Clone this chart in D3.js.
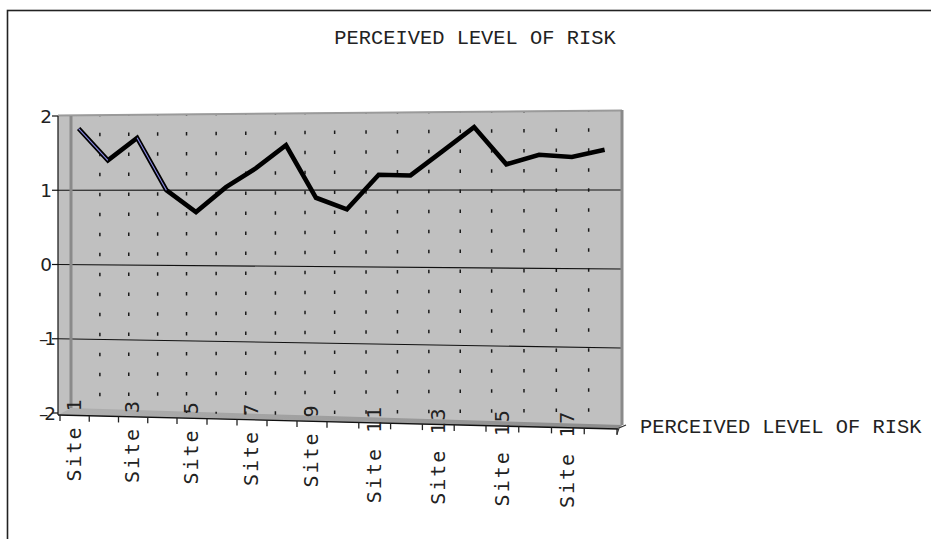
<!DOCTYPE html>
<html>
<head>
<meta charset="utf-8">
<script src="https://cdn.jsdelivr.net/npm/d3@7"></script>
<style>
  html, body { margin: 0; padding: 0; background: #fff; }
  svg { display: block; }
</style>
</head>
<body>
<svg id="chart" width="931" height="539"></svg>
<script>
// ---------------- data ----------------
const categories = ["Site 1","Site 2","Site 3","Site 4","Site 5","Site 6","Site 7","Site 8","Site 9",
  "Site 10","Site 11","Site 12","Site 13","Site 14","Site 15","Site 16","Site 17","Site 18"];
const riskValues = [1.83, 1.40, 1.70, 1.00, 0.71, 1.04, 1.29, 1.59, 0.90,
  0.75, 1.20, 1.19, 1.50, 1.81, 1.33, 1.45, 1.42, 1.51];
const yTickValues = [-2, -1, 0, 1, 2];
const yTickLabels = ["\u20132", "\u20131", "0", "1", "2"];
const gridValues = [-1, 0, 1];
const chartTitle = "PERCEIVED LEVEL OF RISK";
const seriesName = "PERCEIVED LEVEL OF RISK";

// ---------------- layout ----------------
const svg = d3.select("#chart");
const n = categories.length;

// front category axis (perspective approximated by a polylinear scale)
const xFront = d3.scaleLinear().domain([0, 4, 9, 14, 18]).range([60, 177, 327, 486, 617]);
const axisY = d3.scaleLinear().domain([60, 617]).range([415, 429]);
// back wall x mapping
const xWall = d3.scaleLinear().domain([60, 617]).range([71, 621]);
// value scales at the left and right edges of the wall (perspective)
const yLeft = d3.scaleLinear().domain([-2, 2]).range([413, 116]);
const yRight = d3.scaleLinear().domain([-2, 2]).range([427, 111]);
const tWall = d3.scaleLinear().domain([71, 621]).range([0, 1]);
const yAt = (v, x) => d3.interpolateNumber(yLeft(v), yRight(v))(tWall(x));

const axisX = 58;
const wallL = xWall(xFront(0)), wallR = xWall(xFront(n));

// border
svg.append("rect").attr("x", 7.5).attr("y", 10.5).attr("width", 1000).attr("height", 1000)
  .attr("fill", "none").attr("stroke", "#222").attr("stroke-width", 1.6);

// title
svg.append("text").attr("x", 475).attr("y", 44).attr("text-anchor", "middle")
  .attr("font-family", "Liberation Mono").attr("font-size", 20.4).attr("fill", "#222")
  .text(chartTitle);

// wall fill
const wallPoly = [[axisX, yLeft(2) - 1], [wallR + 1, yRight(2) - 1], [wallR + 1, yRight(-2) - 1],
  [xFront(n), axisY(xFront(n))], [axisX, axisY(axisX + 2)]];
svg.append("polygon").attr("points", wallPoly.map(p => p.join(",")).join(" "))
  .attr("fill", "#c0c0c0");

// floor
const defs = svg.append("defs");
const grad = defs.append("linearGradient").attr("id", "floorGrad").attr("x1", "0").attr("x2", "1");
grad.append("stop").attr("offset", "0").attr("stop-color", "#b0b0b0");
grad.append("stop").attr("offset", "1").attr("stop-color", "#8c8c8c");
const floorPoly = [[axisX, axisY(axisX + 2)], [wallL, yLeft(-2) - 5], [wallR + 1, yRight(-2) - 2],
  [xFront(n), axisY(xFront(n))]];
svg.append("polygon").attr("points", floorPoly.map(p => p.join(",")).join(" "))
  .attr("fill", "url(#floorGrad)");

// dashed vertical gridlines on wall
for (let k = 1; k < n; k++) {
  const x = xWall(xFront(k));
  svg.append("line").attr("x1", x).attr("x2", x)
    .attr("y1", yAt(2, x)).attr("y2", yAt(-2, x) - 3)
    .attr("stroke", "#1a1a1a").attr("stroke-width", 1.5)
    .attr("stroke-dasharray", "3.5 16.5").attr("stroke-dashoffset", 3);
}

// horizontal gridlines
gridValues.forEach(v => {
  svg.append("line").attr("x1", axisX).attr("y1", yLeft(v))
    .attr("x2", wallR).attr("y2", yAt(v, wallR))
    .attr("stroke", "#111").attr("stroke-width", 1.1);
});

// wall edges
svg.append("line").attr("x1", axisX).attr("y1", yLeft(2) - 0.5).attr("x2", wallR + 1).attr("y2", yRight(2) - 0.5)
  .attr("stroke", "#9a9a9a").attr("stroke-width", 2);
svg.append("line").attr("x1", wallL).attr("y1", yLeft(2)).attr("x2", wallL).attr("y2", yLeft(-2) - 5)
  .attr("stroke", "#8a8a8a").attr("stroke-width", 3);
svg.append("line").attr("x1", wallR + 1).attr("y1", yRight(2) - 1).attr("x2", wallR + 1).attr("y2", yRight(-2) - 2)
  .attr("stroke", "#8a8a8a").attr("stroke-width", 3);

// value axis
svg.append("line").attr("x1", axisX).attr("x2", axisX).attr("y1", yLeft(2)).attr("y2", axisY(axisX + 2))
  .attr("stroke", "#111").attr("stroke-width", 1.2);
yTickValues.forEach((v, i) => {
  svg.append("line").attr("x1", axisX - 6).attr("x2", axisX).attr("y1", yLeft(v)).attr("y2", yLeft(v))
    .attr("stroke", "#111").attr("stroke-width", 1.2);
  svg.append("text").attr("x", 52).attr("y", yLeft(v)).attr("dy", "0.36em")
    .attr("text-anchor", "end").attr("font-family", "DejaVu Sans").attr("font-size", 18.5)
    .attr("letter-spacing", v < 0 ? -4 : 0).attr("fill", "#222").text(yTickLabels[i]);
});

// category axis
svg.append("line").attr("x1", axisX).attr("y1", axisY(axisX)).attr("x2", xFront(n) + 1).attr("y2", axisY(xFront(n)))
  .attr("stroke", "#111").attr("stroke-width", 1.4);
for (let k = 0; k <= n; k++) {
  const x = xFront(k);
  svg.append("line").attr("x1", x).attr("x2", x).attr("y1", axisY(x)).attr("y2", axisY(x) + 6)
    .attr("stroke", "#222").attr("stroke-width", 1.3);
}
// depth-axis tick toward series label
svg.append("path")
  .attr("d", `M${xFront(n)},${axisY(xFront(n)) + 5} L${xFront(n) + 2},${axisY(xFront(n)) - 1} L${xFront(n) + 9},${axisY(xFront(n)) - 4}`)
  .attr("fill", "none").attr("stroke", "#333").attr("stroke-width", 1.2);

// category labels (every other)
categories.forEach((c, i) => {
  if (i % 2 !== 0) return;
  const x = xFront(i + 0.5);
  const y = axisY(x) - 18;
  svg.append("text").attr("transform", `translate(${x - 1},${y}) rotate(-90)`)
    .attr("text-anchor", "end").attr("dy", "0.36em")
    .attr("font-family", "DejaVu Sans Mono").attr("font-size", 20).attr("letter-spacing", 2)
    .attr("fill", "#222").text(c);
});

// series label on depth axis
svg.append("text").attr("x", 640).attr("y", 433)
  .attr("font-family", "Liberation Mono").attr("font-size", 20.4).attr("fill", "#222")
  .text(seriesName);

// data line
const pts = riskValues.map((v, i) => {
  const x = xFront(i + 0.5) + 4;
  return [x, yAt(v, x)];
});
const line = d3.line();
svg.append("path").attr("d", line(pts)).attr("fill", "none")
  .attr("stroke", "#000").attr("stroke-width", 4.6).attr("stroke-linejoin", "miter");
// ribbon highlight on the visible descending faces
[0, 2].forEach(s => {
  svg.append("path").attr("d", line([pts[s], pts[s + 1]])).attr("fill", "none")
    .attr("stroke", "#8a8ae6").attr("stroke-width", 1.1);
});
</script>
</body>
</html>
